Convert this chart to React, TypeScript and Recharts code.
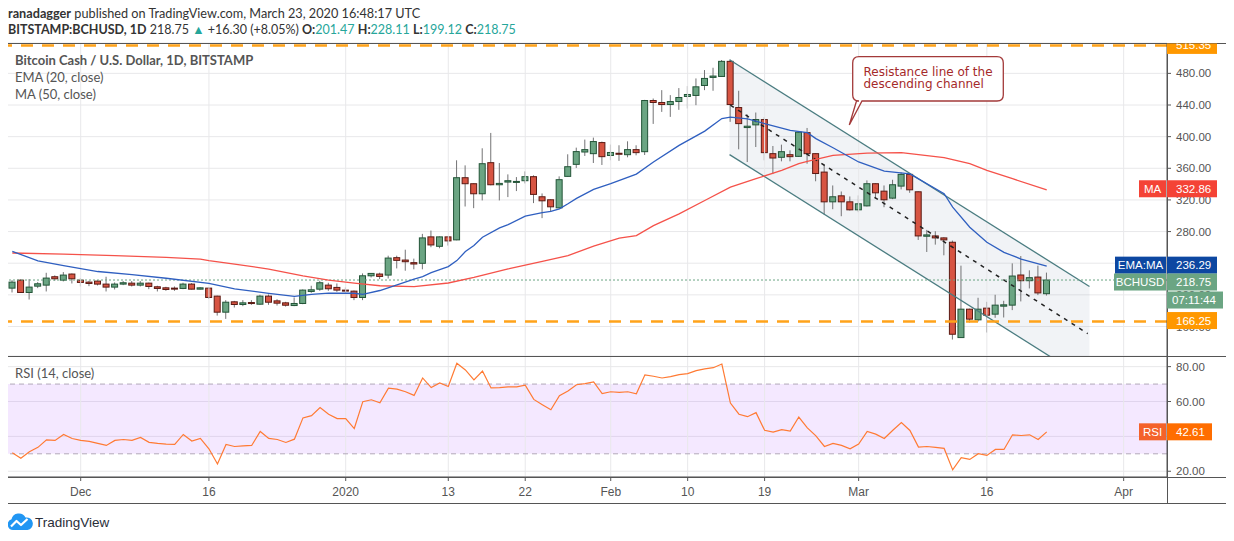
import React from "react";
import {
  Bar, CartesianGrid, ComposedChart, Line, ReferenceArea, ReferenceLine, XAxis, YAxis,
} from "recharts";

// daily candles, index 0 = 2019-11-23, index 121 = 2020-03-23
const opens = [
  208.5, 218.6, 203.0, 211.0, 212.3, 222.9, 218.6, 226.3, 218.6, 216.1,
  217.4, 213.6, 209.8, 213.6, 214.8, 212.3, 214.8, 210.2, 208.9, 208.5,
  208.1, 213.6, 207.2, 208.5, 198.4, 178.1, 191.2, 187.8, 190.3, 188.2,
  198.4, 192.4, 189.9, 186.5, 189.1, 204.3, 207.2, 212.3, 209.4, 206.0,
  204.7, 196.7, 224.1, 226.3, 225.0, 247.0, 244.0, 240.7, 239.9, 273.3,
  261.4, 273.3, 269.5, 348.1, 340.5, 327.8, 367.1, 339.2, 342.6, 342.6,
  344.3, 349.4, 324.0, 320.2, 310.0, 349.8, 365.0, 380.6, 378.5, 392.5,
  376.2, 379.0, 377.2, 383.6, 381.0, 445.7, 443.2, 440.6, 444.4, 450.8,
  452.1, 464.7, 474.9, 476.1, 495.2, 436.8, 411.5, 414.9, 421.6, 378.5,
  373.9, 377.2, 375.1, 405.1, 378.5, 355.2, 317.6, 325.2, 317.6, 307.5,
  312.5, 340.5, 331.1, 322.3, 337.5, 352.3, 330.3, 274.1, 274.5, 272.0,
  266.5, 146.0, 181.9, 168.4, 183.2, 175.6, 185.7, 187.0, 225.1, 217.9,
  222.5, 201.47,
];
const highs = [
  218.6, 219.5, 219.9, 216.1, 227.9, 224.6, 228.8, 227.0, 221.2, 217.8,
  218.6, 222.9, 215.7, 217.4, 217.4, 217.4, 215.5, 211.5, 210.2, 210.6,
  215.3, 214.8, 209.8, 209.4, 199.0, 193.3, 192.4, 193.3, 193.3, 200.1,
  200.5, 194.5, 191.2, 196.7, 206.8, 211.5, 217.8, 215.3, 214.4, 209.4,
  205.5, 227.1, 227.5, 228.0, 249.5, 249.5, 257.1, 245.8, 277.1, 281.3,
  273.8, 274.0, 370.1, 363.7, 341.0, 385.3, 404.7, 366.7, 352.3, 348.9,
  356.1, 351.1, 328.2, 320.8, 349.8, 377.7, 386.1, 396.3, 398.8, 393.8,
  390.0, 389.1, 394.1, 389.1, 446.5, 448.2, 458.8, 452.5, 461.4, 463.9,
  473.6, 484.2, 487.1, 496.9, 497.3, 458.0, 428.0, 430.5, 424.6, 388.2,
  389.9, 382.7, 406.5, 411.0, 379.0, 363.7, 338.3, 330.7, 324.4, 325.7,
  344.7, 341.0, 338.3, 345.5, 354.8, 353.1, 330.8, 282.1, 280.4, 272.8,
  268.6, 236.9, 182.5, 196.3, 191.2, 200.1, 192.5, 239.8, 249.1, 231.0,
  236.9, 228.11,
];
const lows = [
  203.0, 202.6, 194.1, 208.5, 204.3, 217.8, 217.0, 214.4, 210.6, 211.0,
  211.9, 204.3, 206.8, 212.3, 210.6, 210.6, 207.2, 204.3, 205.1, 205.1,
  207.2, 206.8, 206.8, 195.0, 173.8, 169.6, 184.0, 185.7, 187.4, 187.4,
  187.4, 186.5, 185.2, 185.7, 188.2, 202.6, 205.1, 205.1, 203.8, 202.6,
  193.3, 193.3, 222.0, 219.9, 220.7, 233.4, 230.5, 232.3, 232.3, 260.2,
  258.9, 262.3, 269.0, 311.7, 309.6, 319.4, 338.5, 319.4, 323.6, 331.2,
  340.9, 316.0, 297.0, 305.4, 309.5, 349.3, 360.4, 375.6, 366.7, 364.2,
  370.1, 369.4, 373.9, 376.4, 376.8, 416.1, 431.3, 425.0, 433.9, 435.6,
  439.8, 458.8, 458.0, 475.5, 418.7, 384.0, 367.9, 386.9, 370.1, 352.7,
  368.8, 368.8, 374.5, 365.8, 343.6, 301.6, 308.3, 299.4, 306.6, 304.5,
  311.7, 321.8, 310.8, 321.0, 333.3, 329.0, 269.4, 254.2, 263.5, 250.0,
  143.5, 145.5, 165.0, 166.3, 152.4, 171.0, 171.4, 180.7, 191.7, 208.1,
  199.7, 199.12,
];
const closes = [
  216.1, 203.0, 209.8, 214.0, 221.2, 220.3, 225.0, 220.3, 215.7, 214.4,
  213.6, 209.8, 213.6, 215.3, 212.3, 214.8, 210.6, 208.1, 206.8, 207.7,
  213.6, 207.2, 208.9, 196.7, 178.1, 190.7, 187.8, 189.9, 189.1, 198.4,
  190.7, 189.5, 186.9, 189.1, 206.0, 206.4, 215.3, 207.7, 206.0, 205.1,
  196.7, 224.1, 227.1, 223.3, 246.5, 243.6, 241.9, 239.0, 272.0, 263.1,
  273.3, 268.2, 348.1, 340.5, 327.8, 365.8, 339.2, 340.9, 344.3, 343.4,
  349.4, 327.0, 318.9, 311.3, 345.6, 362.0, 381.1, 383.6, 393.8, 374.7,
  380.0, 378.1, 383.6, 379.8, 445.7, 443.2, 440.6, 444.4, 449.5, 453.3,
  463.0, 473.6, 476.6, 495.2, 440.6, 416.5, 413.2, 421.6, 379.8, 373.0,
  381.0, 374.7, 405.6, 378.5, 353.4, 317.6, 324.0, 317.6, 307.5, 315.1,
  340.5, 329.0, 320.2, 339.2, 352.3, 332.8, 274.5, 275.8, 272.0, 269.5,
  150.2, 181.9, 169.3, 181.9, 174.3, 187.0, 187.4, 223.8, 217.9, 221.7,
  202.45, 218.75,
];
const rsiValues = [
  30.6, 27.4, 31.2, 33.7, 38.0, 37.7, 41.1, 38.8, 37.7, 37.1,
  36.0, 34.8, 37.7, 38.2, 37.7, 39.4, 36.6, 36.0, 35.6, 35.4,
  41.1, 37.3, 38.8, 32.9, 24.2, 35.4, 34.2, 34.6, 34.8, 42.8,
  38.8, 38.2, 36.5, 38.4, 50.6, 51.9, 56.5, 52.7, 50.2, 50.2,
  44.5, 59.9, 61.0, 59.3, 67.7, 67.1, 65.6, 63.5, 73.5, 68.0,
  70.7, 68.6, 81.9, 78.1, 72.4, 77.5, 67.8, 68.0, 68.4, 68.4,
  69.4, 61.2, 58.2, 55.3, 63.3, 66.0, 69.6, 70.3, 71.3, 64.6,
  65.6, 65.2, 65.6, 64.4, 75.3, 74.5, 73.5, 74.3, 75.4, 76.0,
  77.7, 78.7, 79.4, 81.5, 59.1, 52.7, 51.3, 53.6, 43.5, 42.4,
  43.9, 43.0, 51.1, 44.9, 40.3, 34.2, 36.0, 34.8, 32.9, 35.6,
  42.8, 41.3, 38.8, 43.5, 47.9, 43.4, 33.9, 34.2, 33.7, 33.1,
  20.8, 27.8, 26.8, 30.1, 29.1, 32.5, 32.5, 40.9, 40.5, 40.9,
  38.2, 42.61,
];
// [candle index, value]
const emaPoints: [number, number][] = [
  [0, 255], [3, 243], [6, 237], [10, 229.5], [14, 225.5], [18, 221], [23, 214.5],
  [26, 207.5], [30, 202], [33, 198], [35, 200.5], [37, 202.3], [40, 202], [41, 200.5],
  [43, 205.5], [45, 212.5], [47, 220], [48, 223], [49, 228], [50, 232], [51, 235.7],
  [52, 243.3], [53, 254.7], [54, 262.3], [55, 272.9], [57, 284.7], [58, 288.9],
  [60, 299.5], [62, 304], [63, 305.4], [64, 308.8], [65, 315.1], [66, 321.9],
  [68, 333.3], [70, 340.5], [73, 352.7], [75, 367.9], [78, 389], [81, 407],
  [83, 422.9], [84, 424.6], [86, 422.5], [88, 416.5], [91, 408], [93, 405],
  [94, 397.5], [96, 386], [99, 368], [102, 356.5], [105, 353], [109, 327.8],
  [110, 311], [112, 285.5], [114, 266.5], [116, 253.8], [118, 245.3], [121, 236.29],
];
const maPoints: [number, number][] = [
  [0, 252.9], [6, 251.6], [12, 249.5], [18, 247.4], [22, 245.3], [23, 243.2],
  [26, 238.9], [30, 232.6], [34, 224.1], [37, 218.6], [40, 214.8], [43, 211.5],
  [47, 210.5], [51, 215], [54, 222.1], [58, 232.7], [62, 242.4], [65, 249.6],
  [68, 261.5], [71, 271.6], [73, 275], [75, 287.6], [78, 302.4], [81, 319.3],
  [84, 336.2], [87, 346.8], [90, 357.4], [92, 365.8], [93, 368.8], [96, 376.4],
  [100, 379.3], [104, 379.8], [105, 378.5], [109, 373.4], [112, 365.8],
  [114, 357.4], [117, 346.8], [121, 332.86],
];

const priceTicks = [160, 200, 240, 280, 320, 360, 400, 440, 480];
const rsiTicks = [20, 40, 60, 80];
const dateTicks = [8, 23, 39, 51, 60, 70, 79, 88, 99, 114, 130];
const dateLabels = ["Dec", "16", "2020", "13", "22", "Feb", "10", "19", "Mar", "16", "Apr"];

// descending channel drawn by the author (candle index, price)
const channelFrom = 83.9;
const channelTo = 126;
const upperLine = [497.2, 210.6];
const lowerLine = [377.3, 90.7];
const midLine = [{ x: 84, y: 439.8 }, { x: 125.8, y: 151.0 }];

const X_DOMAIN: [number, number] = [-0.62, 135.07];
const PRICE_DOMAIN: [number, number] = [122.7, 518.4];
const RSI_DOMAIN: [number, number] = [16.7, 86.1];

const UP = "#6ba583";
const DOWN = "#d75442";
const AXIS_FONT = "'Liberation Sans', Arial, sans-serif";
const TICK = { fontSize: 11.5, fill: "#555", fontFamily: AXIS_FONT } as const;
const GRID = "#e8e8ea";
const FRAME = "#555";

const rows = opens.map((o, i) => ({
  i, o, h: highs[i], l: lows[i], c: closes[i],
  range: [lows[i], highs[i]],
  rsi: rsiValues[i],
  ema: null as number | null,
  ma: null as number | null,
}));
emaPoints.forEach(([i, v]) => { rows[i].ema = v; });
maPoints.forEach(([i, v]) => { rows[i].ma = v; });

function Candle(props: any) {
  const { x, y, width, height, payload } = props;
  if (x == null || payload == null) return null;
  const top = Math.min(y, y + height);
  const span = Math.abs(height);
  const { o, h, l, c } = payload;
  const py = (v: number) => top + ((h - v) / (h - l || 1)) * span;
  const cx = x + width / 2;
  const up = c >= o;
  const bTop = py(Math.max(o, c));
  const bBot = py(Math.min(o, c));
  return (
    <g>
      <line x1={cx} x2={cx} y1={top} y2={top + span} stroke="#737375" strokeWidth={1} />
      <rect
        x={cx - 3} y={bTop} width={6} height={Math.max(bBot - bTop, 1)}
        fill={up ? UP : DOWN} stroke={up ? "#225437" : "#5b1a13"} strokeWidth={1}
      />
    </g>
  );
}

function ChannelFill(props: any) {
  const { x, y, width, height } = props;
  const top = upperLine[0];
  const bottom = PRICE_DOMAIN[0];
  const py = (v: number) => y + ((top - v) / (top - bottom)) * height;
  const f = (lowerLine[0] - bottom) / (lowerLine[0] - lowerLine[1]);
  const pts = [
    [x, py(upperLine[0])], [x + width, py(upperLine[1])], [x + width, y + height],
    [x + f * width, y + height], [x, py(lowerLine[0])],
  ];
  return <polygon points={pts.map((p) => p.join(",")).join(" ")} fill="#8b9bb4" fillOpacity={0.12} />;
}

type TagOpts = {
  value: string; color: string; valueWidth?: number;
  name?: string; nameColor?: string; nameWidth?: number;
  dy?: number; clipTop?: boolean; timer?: string;
};

function tag(opts: TagOpts) {
  return (p: any) => {
    const vb = p.viewBox;
    if (!vb) return null;
    const x = vb.x + vb.width;
    const cy = vb.y + (opts.dy ?? -0.5);
    const h = 17;
    const t = cy - h / 2;
    const vw = opts.valueWidth ?? 50;
    const id = `clip-${opts.value.replace(/[^0-9]/g, "")}`;
    const txt = { fontSize: 11.5, fontFamily: AXIS_FONT, fill: "#fff", dominantBaseline: "central" } as const;
    return (
      <g clipPath={opts.clipTop ? `url(#${id})` : undefined}>
        {opts.clipTop && (
          <defs>
            <clipPath id={id}>
              <rect x={x - 2} y={vb.y - 2} width={vw + 4} height={20} />
            </clipPath>
          </defs>
        )}
        {opts.name && (
          <>
            <rect x={x - 1 - (opts.nameWidth ?? 27)} y={t} width={opts.nameWidth ?? 27} height={h} fill={opts.nameColor ?? opts.color} />
            <text {...txt} x={x - 1 - (opts.nameWidth ?? 27) / 2} y={cy} textAnchor="middle">{opts.name}</text>
          </>
        )}
        <rect x={x} y={t} width={vw} height={h} fill={opts.color} />
        <text {...txt} x={x + 9} y={cy}>{opts.value}</text>
        {opts.timer && (
          <>
            <rect x={x} y={t + h + 1} width={56} height={h} fill={opts.color} />
            <text {...txt} x={x + 5} y={cy + h + 1}>{opts.timer}</text>
          </>
        )}
      </g>
    );
  };
}

const BLANK_Y = { tick: false, axisLine: false, tickLine: false } as const;

function PriceChart() {
  return (
    <ComposedChart width={1234} height={360} data={rows} margin={{ top: 43, right: 0, bottom: 4, left: 7 }}>
      <CartesianGrid stroke={GRID} vertical={false} />
      {dateTicks.map((t) => (
        <ReferenceLine key={t} x={t} stroke={GRID} />
      ))}
      <XAxis dataKey="i" type="number" domain={X_DOMAIN} allowDataOverflow hide />
      <YAxis
        orientation="right" width={67} domain={PRICE_DOMAIN} allowDataOverflow ticks={priceTicks}
        tick={TICK} tickFormatter={(v: number) => v.toFixed(2)} tickSize={4} tickMargin={5}
        axisLine={{ stroke: FRAME }} tickLine={{ stroke: FRAME }}
      />
      <ReferenceArea
        x1={channelFrom} x2={channelTo} y1={PRICE_DOMAIN[0]} y2={upperLine[0]}
        shape={<ChannelFill />} ifOverflow="visible"
      />
      <ReferenceLine
        segment={[{ x: channelFrom, y: upperLine[0] }, { x: channelTo, y: upperLine[1] }]}
        stroke="#4a7c80" strokeWidth={1.3} ifOverflow="hidden"
      />
      <ReferenceLine
        segment={[{ x: channelFrom, y: lowerLine[0] }, { x: channelTo, y: lowerLine[1] }]}
        stroke="#4a7c80" strokeWidth={1.3} ifOverflow="hidden"
      />
      <ReferenceLine segment={midLine} stroke="#222" strokeWidth={1.5} strokeDasharray="4 5" ifOverflow="hidden" />
      <ReferenceLine y={218.75} stroke={UP} strokeDasharray="2 2" />
      <Bar dataKey="range" shape={<Candle />} barSize={6} isAnimationActive={false} />
      <Line dataKey="ma" type="linear" stroke="#f5524a" strokeWidth={1.3} dot={false} connectNulls isAnimationActive={false} />
      <Line dataKey="ema" type="linear" stroke="#2f5fc0" strokeWidth={1.3} dot={false} connectNulls isAnimationActive={false} />
      <ReferenceLine y={515.35} stroke="#ffa31a" strokeWidth={2.5} strokeDasharray="12 9" />
      <ReferenceLine y={166.25} stroke="#ffa31a" strokeWidth={2.5} strokeDasharray="12 9" />
    </ComposedChart>
  );
}

// second layer on top of the price pane, only for the right-hand price tags
function PriceTags() {
  return (
    <ComposedChart width={1234} height={360} data={rows} margin={{ top: 43, right: 0, bottom: 4, left: 7 }}>
      <XAxis dataKey="i" type="number" domain={X_DOMAIN} allowDataOverflow hide />
      <YAxis orientation="right" width={67} domain={PRICE_DOMAIN} allowDataOverflow {...BLANK_Y} />
      <ReferenceLine y={515.35} stroke="none"
        label={tag({ value: "515.35", color: "#ff9800", dy: 0, clipTop: true })} />
      <ReferenceLine y={166.25} stroke="none"
        label={tag({ value: "166.25", color: "#ff9800", dy: -1 })} />
      <ReferenceLine y={332.86} stroke="none"
        label={tag({ value: "332.86", color: "#f44336", name: "MA", nameWidth: 27, dy: -1 })} />
      <ReferenceLine y={236.29} stroke="none"
        label={tag({ value: "236.29", color: "#0d47a1", name: "EMA:MA", nameWidth: 51, dy: -1 })} />
      <ReferenceLine y={218.75} stroke="none"
        label={tag({ value: "218.75", color: UP, name: "BCHUSD", nameWidth: 52, dy: 2, timer: "07:11:44" })} />
    </ComposedChart>
  );
}

function RsiChart() {
  return (
    <ComposedChart width={1234} height={148} data={rows} margin={{ top: 0, right: 0, bottom: 0, left: 7 }}>
      <CartesianGrid stroke={GRID} vertical={false} />
      {dateTicks.map((t) => (
        <ReferenceLine key={t} x={t} stroke={GRID} />
      ))}
      <XAxis
        dataKey="i" type="number" domain={X_DOMAIN} allowDataOverflow ticks={dateTicks} height={27}
        tickFormatter={(v: number) => dateLabels[dateTicks.indexOf(v)] ?? ""}
        tick={{ ...TICK, fontSize: 12 }} tickSize={4} tickMargin={6}
        axisLine={{ stroke: FRAME }} tickLine={{ stroke: FRAME }}
      />
      <YAxis
        orientation="right" width={67} domain={RSI_DOMAIN} allowDataOverflow ticks={rsiTicks}
        tick={TICK} tickFormatter={(v: number) => v.toFixed(2)} tickSize={4} tickMargin={5}
        axisLine={{ stroke: FRAME }} tickLine={{ stroke: FRAME }}
      />
      <ReferenceArea y1={30} y2={70} fill="#b266ff" fillOpacity={0.15} stroke="none" />
      <ReferenceLine y={70} stroke="#b2a9b9" strokeDasharray="5 4" />
      <ReferenceLine y={30} stroke="#b2a9b9" strokeDasharray="5 4" />
      <Line dataKey="rsi" type="linear" stroke="#ff7a33" strokeWidth={1.2} dot={false} isAnimationActive={false} />
    </ComposedChart>
  );
}

function RsiTag() {
  return (
    <ComposedChart width={1234} height={148} data={rows} margin={{ top: 0, right: 0, bottom: 27, left: 7 }}>
      <XAxis dataKey="i" type="number" domain={X_DOMAIN} allowDataOverflow hide />
      <YAxis orientation="right" width={67} domain={RSI_DOMAIN} allowDataOverflow {...BLANK_Y} />
      <ReferenceLine y={42.61} stroke="none"
        label={tag({ value: "42.61", color: "#ff6d00", valueWidth: 45, name: "RSI", nameColor: "#f4622a", nameWidth: 27, dy: 0 })} />
    </ComposedChart>
  );
}

function Logo() {
  return (
    <svg width={27} height={18} viewBox="0 0 27 18">
      <path d="M6 17 A5.5 5.5 0 0 1 4.5 6.3 A7.5 7.5 0 0 1 18.5 4.5 A6.2 6.2 0 0 1 20.5 17 Z" fill="#2196f3" />
      <polyline points="4,13.5 9.5,8 14,12 20.5,6" fill="none" stroke="#fff" strokeWidth={2.2} strokeLinejoin="round" />
    </svg>
  );
}

export default function App() {
  const teal = "#26a69a";
  const abs = (left: number, top: number): React.CSSProperties => ({ position: "absolute", left, top, whiteSpace: "nowrap" });
  return (
    <div style={{ position: "relative", width: 1234, height: 541, margin: -8, background: "#fff", overflow: "hidden", fontFamily: "Lato, sans-serif", color: "#333" }}>
      <div style={{ ...abs(8, 5), fontSize: 12.7 }}>
        <b>ranadagger</b> published on TradingView.com, March 23, 2020 16:48:17 UTC
      </div>
      <div style={{ ...abs(8, 22), fontSize: 12.5 }}>
        <b>BITSTAMP:BCHUSD, 1D</b> 218.75 <span style={{ color: teal }}>▲</span> +16.30 (+8.05%){" "}
        <b>O:</b><span style={{ color: teal }}>201.47</span> <b>H:</b><span style={{ color: teal }}>228.11</span>{" "}
        <b>L:</b><span style={{ color: teal }}>199.12</span> <b>C:</b><span style={{ color: teal }}>218.75</span>
      </div>

      <div style={abs(0, 0)}><PriceChart /></div>
      <div style={abs(0, 356)}><RsiChart /></div>

      <div style={{ ...abs(15, 52), fontSize: 13, color: "#555", fontWeight: 700 }}>Bitcoin Cash / U.S. Dollar, 1D, BITSTAMP</div>
      <div style={{ ...abs(15, 69), fontSize: 13, color: "#555" }}>EMA (20, close)</div>
      <div style={{ ...abs(15, 86), fontSize: 13, color: "#555" }}>MA (50, close)</div>
      <div style={{ ...abs(15, 365), fontSize: 13, color: "#555" }}>RSI (14, close)</div>

      <svg style={{ position: "absolute", left: 0, top: 0, pointerEvents: "none" }} width={1234} height={541}>
        <rect x={7.5} y={43.5} width={1219} height={460} fill="none" stroke={FRAME} />
        <line x1={7} x2={1227} y1={356.5} y2={356.5} stroke={FRAME} />
        <line x1={7} x2={1227} y1={477.5} y2={477.5} stroke={FRAME} />
        <line x1={1167.5} x2={1167.5} y1={43} y2={504} stroke={FRAME} />
        <path
          d="M859 56.7 H997 Q1003.3 56.7 1003.3 63 V95 Q1003.3 101 997 101 H862 L849.3 125 L856.5 101 H859 Q852.7 101 852.7 95 V63 Q852.7 56.7 859 56.7 Z"
          fill="#fff" stroke="#a33a3a" strokeWidth={1.3}
        />
        <text x={863.5} y={76} fontSize={12} fontFamily="'DejaVu Sans', sans-serif" fill="#a52a2a">Resistance line of the</text>
        <text x={863.5} y={88} fontSize={12} fontFamily="'DejaVu Sans', sans-serif" fill="#a52a2a">descending channel</text>
      </svg>

      <div style={{ ...abs(0, 0), pointerEvents: "none" }}><PriceTags /></div>
      <div style={{ ...abs(0, 356), pointerEvents: "none" }}><RsiTag /></div>

      <div style={{ ...abs(7, 513), display: "flex", alignItems: "center", gap: 1 }}>
        <Logo />
        <span style={{ fontFamily: AXIS_FONT, fontSize: 13.5, color: "#2a2e39" }}>TradingView</span>
      </div>
    </div>
  );
}
